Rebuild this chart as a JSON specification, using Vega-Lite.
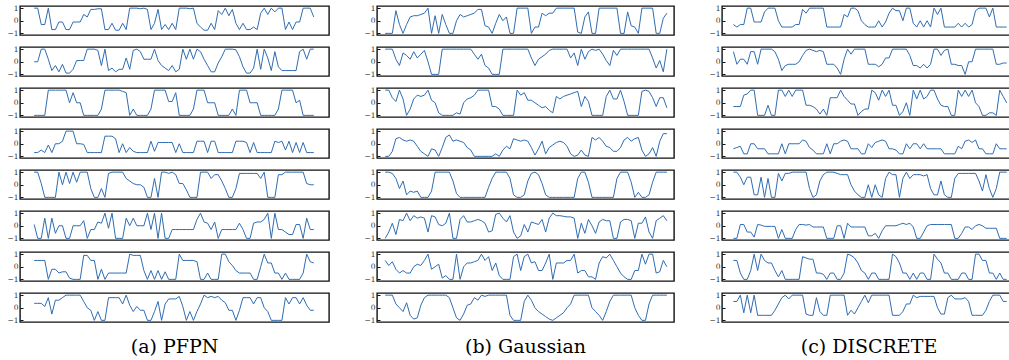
{
"$schema": "https://vega.github.io/schema/vega-lite/v6.json",
"padding": {"left": 6, "top": 3, "right": 0, "bottom": 0},
"background": "white",
"spacing": 33,
"config": {"view": {"stroke": "#111", "strokeWidth": 1.4}, "font": "DejaVu Serif"},
"datasets": {
"A": [
{"t":0,"a":1,"b":0,"c":-1,"d":-0.7,"e":1,"f":0.1,"g":0.5,"h":0.35},
{"t":1,"a":1,"b":0,"c":-1,"d":-0.7,"e":1,"f":-1,"g":0.5,"h":0.35},
{"t":2,"a":-0.3,"b":1,"c":-1,"d":-0.5,"e":0.1,"f":-1,"g":0.5,"h":0.35},
{"t":3,"a":-0.3,"b":1,"c":-1,"d":-0.7,"e":-1,"f":0.6,"g":0.5,"h":0.1},
{"t":4,"a":1,"b":0.2,"c":1,"d":-0.1,"e":-1,"f":-1,"g":-1,"h":0.8},
{"t":5,"a":-0.7,"b":-0.7,"c":1,"d":-0.7,"e":-1,"f":0.6,"g":-0.2,"h":-0.5},
{"t":6,"a":-0.7,"b":-0.3,"c":1,"d":0,"e":-1,"f":-0.6,"g":-0.2,"h":0.6},
{"t":7,"a":-0.1,"b":-0.8,"c":1,"d":0,"e":1,"f":0,"g":-0.5,"h":0.6},
{"t":8,"a":-0.1,"b":-0.2,"c":1,"d":0.2,"e":0,"f":0,"g":-0.4,"h":0.8},
{"t":9,"a":-0.7,"b":-0.9,"c":1,"d":1,"e":1,"f":-1,"g":-0.4,"h":1},
{"t":10,"a":-0.7,"b":-0.9,"c":0,"d":1,"e":0.1,"f":-1,"g":-0.9,"h":1},
{"t":11,"a":-0.1,"b":-0.6,"c":0.8,"d":1,"e":1,"f":0,"g":-1,"h":1},
{"t":12,"a":-0.1,"b":0.1,"c":0,"d":0,"e":0.2,"f":0,"g":-1,"h":1},
{"t":13,"a":-0.1,"b":0.1,"c":0,"d":0,"e":1,"f":0,"g":-1,"h":1},
{"t":14,"a":0.5,"b":0.1,"c":-1,"d":-0.05,"e":1,"f":0.4,"g":0.9,"h":0.5},
{"t":15,"a":0.3,"b":1,"c":-1,"d":-0.7,"e":1,"f":-1,"g":0.9,"h":0},
{"t":16,"a":0.9,"b":1,"c":-1,"d":-0.7,"e":-0.3,"f":-0.3,"g":0.5,"h":-0.2},
{"t":17,"a":0.9,"b":1,"c":-1,"d":-0.7,"e":-1,"f":-0.3,"g":0.5,"h":-1},
{"t":18,"a":0.95,"b":0.9,"c":-1,"d":-0.7,"e":-1,"f":0.3,"g":-1,"h":-0.3},
{"t":19,"a":0.95,"b":-0.3,"c":-0.5,"d":-0.7,"e":-0.3,"f":0.2,"g":-0.2,"h":-1},
{"t":20,"a":-0.7,"b":1,"c":1,"d":0.6,"e":-1,"f":1,"g":-1,"h":-1},
{"t":21,"a":-0.7,"b":-0.7,"c":1,"d":0.6,"e":0.9,"f":-0.2,"g":-0.5,"h":0.8},
{"t":22,"a":-0.2,"b":-0.5,"c":1,"d":0.6,"e":1,"f":1,"g":-0.5,"h":0.8},
{"t":23,"a":-0.75,"b":-0.8,"c":1,"d":0.4,"e":1,"f":-1,"g":-0.5,"h":0.8},
{"t":24,"a":-0.75,"b":-0.6,"c":1,"d":-0.7,"e":1,"f":-1,"g":-0.5,"h":0.8},
{"t":25,"a":-0.2,"b":-0.6,"c":0.9,"d":0,"e":1,"f":-1,"g":-0.5,"h":0.3},
{"t":26,"a":-0.7,"b":0.3,"c":0.8,"d":-0.7,"e":0.5,"f":0.6,"g":-0.5,"h":1},
{"t":27,"a":1,"b":-0.6,"c":-1,"d":-0.3,"e":0.3,"f":0,"g":1,"h":0.2},
{"t":28,"a":1,"b":0.9,"c":-0.5,"d":-0.6,"e":0.1,"f":0.6,"g":0.9,"h":-0.3},
{"t":29,"a":1,"b":1,"c":-1,"d":-0.7,"e":0,"f":0,"g":0.9,"h":0.1},
{"t":30,"a":0.95,"b":0.8,"c":-1,"d":-0.7,"e":0,"f":0,"g":0.9,"h":-0.2},
{"t":31,"a":1,"b":0.2,"c":-1,"d":-0.7,"e":-0.2,"f":0,"g":-0.3,"h":-0.2},
{"t":32,"a":0.9,"b":0.2,"c":-1,"d":-0.7,"e":-1,"f":1,"g":-1,"h":-1},
{"t":33,"a":-0.7,"b":0.2,"c":-0.5,"d":0.2,"e":-1,"f":-0.3,"g":-0.3,"h":-1},
{"t":34,"a":-0.2,"b":1,"c":1,"d":-0.6,"e":0.5,"f":1,"g":-1,"h":-0.3},
{"t":35,"a":0.9,"b":0.1,"c":1,"d":0.1,"e":-1,"f":-1,"g":-0.3,"h":0.5},
{"t":36,"a":-0.7,"b":-0.3,"c":1,"d":0.1,"e":1,"f":1,"g":-1,"h":-1},
{"t":37,"a":-0.3,"b":-0.5,"c":1,"d":0.1,"e":1,"f":-1,"g":-0.4,"h":0.3},
{"t":38,"a":-0.7,"b":-0.7,"c":0.1,"d":0.1,"e":0.9,"f":-1,"g":-1,"h":0.7},
{"t":39,"a":-0.2,"b":-0.3,"c":0.1,"d":0.1,"e":1,"f":-0.3,"g":-1,"h":0.7},
{"t":40,"a":-0.7,"b":-0.8,"c":0.8,"d":-0.7,"e":0.8,"f":-0.3,"g":-1,"h":0.7},
{"t":41,"a":1,"b":-0.6,"c":-1,"d":0,"e":0.1,"f":-0.3,"g":1,"h":0.9},
{"t":42,"a":1,"b":1,"c":-1,"d":-0.7,"e":0.1,"f":-0.3,"g":0.5,"h":0.1},
{"t":43,"a":1,"b":0.2,"c":-1,"d":-0.7,"e":-0.4,"f":-0.3,"g":0.5,"h":-1},
{"t":44,"a":0.95,"b":1,"c":-1,"d":-0.7,"e":-1,"f":-0.3,"g":0.5,"h":-0.3},
{"t":45,"a":1,"b":0.2,"c":-0.5,"d":-0.7,"e":-1,"f":-0.3,"g":0.5,"h":-1},
{"t":46,"a":-0.2,"b":1,"c":1,"d":0.2,"e":-1,"f":0.5,"g":0.4,"h":-0.3},
{"t":47,"a":-0.5,"b":0.8,"c":1,"d":0.2,"e":1,"f":1,"g":-1,"h":0.3},
{"t":48,"a":-0.75,"b":0.2,"c":1,"d":0.2,"e":1,"f":0.3,"g":-1,"h":1},
{"t":49,"a":-0.75,"b":-0.3,"c":0,"d":-0.7,"e":1,"f":0.2,"g":-0.5,"h":0.8},
{"t":50,"a":-0.2,"b":-0.8,"c":0,"d":0.2,"e":0.5,"f":-0.3,"g":-1,"h":0.9},
{"t":51,"a":-0.7,"b":-0.8,"c":0,"d":0.2,"e":0.8,"f":0.3,"g":-1,"h":0.8},
{"t":52,"a":0.8,"b":-0.1,"c":-1,"d":-0.7,"e":0.8,"f":-1,"g":-1,"h":0.9},
{"t":53,"a":0.5,"b":0.4,"c":-1,"d":-0.7,"e":0.3,"f":-0.3,"g":1,"h":0.6},
{"t":54,"a":1,"b":1,"c":-1,"d":-0.7,"e":-0.3,"f":-0.3,"g":1,"h":0.4},
{"t":55,"a":0.4,"b":1,"c":-1,"d":-0.7,"e":-1,"f":-0.3,"g":0.4,"h":-0.2},
{"t":56,"a":0.9,"b":1,"c":-0.5,"d":-0.7,"e":-1,"f":-0.3,"g":0.1,"h":-0.2},
{"t":57,"a":-0.2,"b":0.95,"c":-1,"d":0.2,"e":-0.3,"f":-0.3,"g":-0.3,"h":-1},
{"t":58,"a":-0.7,"b":0.4,"c":1,"d":0.2,"e":0.9,"f":0.2,"g":-0.5,"h":-0.2},
{"t":59,"a":-0.2,"b":-0.4,"c":1,"d":0.2,"e":0.9,"f":-0.3,"g":-0.5,"h":0.8},
{"t":60,"a":-0.7,"b":-0.9,"c":1,"d":0.1,"e":0.9,"f":-1,"g":-0.5,"h":0.8},
{"t":61,"a":-0.7,"b":-0.9,"c":0,"d":-0.7,"e":0.9,"f":-1,"g":-0.5,"h":0.8},
{"t":62,"a":-0.5,"b":-0.5,"c":0,"d":0.1,"e":0.9,"f":0.2,"g":-1,"h":0.3},
{"t":63,"a":-0.7,"b":1,"c":0,"d":-0.7,"e":0.9,"f":0.3,"g":-1,"h":0.8},
{"t":64,"a":0.6,"b":-0.6,"c":-1,"d":-0.7,"e":0.5,"f":0.3,"g":0,"h":0.8},
{"t":65,"a":1,"b":1,"c":-1,"d":-0.7,"e":1,"f":0.5,"g":1,"h":0},
{"t":66,"a":0.5,"b":0.3,"c":-1,"d":-0.7,"e":-1,"f":1,"g":0.3,"h":-0.3},
{"t":67,"a":1,"b":-0.7,"c":-1,"d":-0.7,"e":-1,"f":-1,"g":0.3,"h":-1},
{"t":68,"a":0.7,"b":0.8,"c":-1,"d":0.2,"e":-1,"f":1,"g":-0.5,"h":-1},
{"t":69,"a":1,"b":-0.4,"c":-0.5,"d":0.1,"e":0.8,"f":-0.3,"g":-0.5,"h":-1},
{"t":70,"a":1,"b":-0.7,"c":1,"d":0.2,"e":0.8,"f":-0.3,"g":-1,"h":-1},
{"t":71,"a":-0.7,"b":-0.7,"c":1,"d":-0.5,"e":1,"f":-0.5,"g":-0.5,"h":0.8},
{"t":72,"a":-0.1,"b":-0.7,"c":1,"d":0.2,"e":1,"f":-0.7,"g":-1,"h":0.3},
{"t":73,"a":-0.7,"b":-0.7,"c":1,"d":-0.7,"e":1,"f":-0.7,"g":-1,"h":0.8},
{"t":74,"a":-0.1,"b":-0.7,"c":0,"d":0.1,"e":1,"f":0.1,"g":-1,"h":0.8},
{"t":75,"a":-0.1,"b":0.8,"c":0.2,"d":-0.7,"e":1,"f":0.1,"g":-1,"h":0.3},
{"t":76,"a":1,"b":1,"c":-1,"d":0.1,"e":1,"f":-1,"g":-0.5,"h":0.8},
{"t":77,"a":1,"b":0.2,"c":-1,"d":-0.7,"e":0.1,"f":0.6,"g":1,"h":0.2},
{"t":78,"a":1,"b":1,"c":-1,"d":-0.7,"e":0,"f":-0.3,"g":0.4,"h":-0.2},
{"t":79,"a":0.3,"b":1,"c":-1,"d":-0.7,"e":0,"f":-0.3,"g":0.3,"h":-0.2}
],
"B": [
{"t":0,"a":-1,"b":1,"c":1,"d":-1,"e":1,"f":-1,"g":0.5,"h":1},
{"t":1,"a":-1,"b":1,"c":1,"d":-1,"e":1,"f":-0.5,"g":0.1,"h":1},
{"t":2,"a":-1,"b":1,"c":0.4,"d":-0.6,"e":0.9,"f":0.2,"g":0.4,"h":1},
{"t":3,"a":0.8,"b":0.2,"c":0.1,"d":0.4,"e":0.5,"f":-0.7,"g":-0.2,"h":0.3},
{"t":4,"a":-0.3,"b":-0.3,"c":1,"d":0.5,"e":-0.3,"f":0.5,"g":-0.5,"h":0},
{"t":5,"a":-1,"b":0.7,"c":0.3,"d":0.3,"e":0.3,"f":0.4,"g":-0.3,"h":-0.3},
{"t":6,"a":-0.3,"b":0.5,"c":-1,"d":0.2,"e":-0.8,"f":1,"g":-0.5,"h":0.4},
{"t":7,"a":0.3,"b":0.2,"c":-0.5,"d":0.3,"e":-0.5,"f":0.4,"g":-0.5,"h":-0.6},
{"t":8,"a":0.4,"b":0.8,"c":0.3,"d":0.2,"e":-0.6,"f":0.8,"g":0,"h":-0.9},
{"t":9,"a":0.4,"b":0.3,"c":0.6,"d":-0.2,"e":-0.5,"f":0.6,"g":0.2,"h":-0.8},
{"t":10,"a":0.5,"b":0.6,"c":0.5,"d":-0.6,"e":-1,"f":0.7,"g":0.1,"h":0.2},
{"t":11,"a":0.6,"b":0.9,"c":0.6,"d":-0.8,"e":-1,"f":0.6,"g":0.5,"h":0.8},
{"t":12,"a":1,"b":0,"c":1,"d":-1,"e":-1,"f":-0.5,"g":1,"h":1},
{"t":13,"a":-1,"b":-1,"c":0.2,"d":-0.4,"e":-0.5,"f":0.8,"g":-0.2,"h":1},
{"t":14,"a":0.4,"b":-1,"c":0,"d":-0.5,"e":1,"f":0.7,"g":0,"h":1},
{"t":15,"a":-1,"b":-1,"c":-0.8,"d":-1,"e":1,"f":0.1,"g":0.2,"h":1},
{"t":16,"a":0.5,"b":1,"c":-1,"d":-0.3,"e":1,"f":0,"g":-0.9,"h":1},
{"t":17,"a":-0.3,"b":1,"c":-1,"d":0.5,"e":1,"f":0.2,"g":-0.7,"h":1},
{"t":18,"a":-1,"b":1,"c":-1,"d":0.7,"e":1,"f":1,"g":-1,"h":0.8},
{"t":19,"a":-1,"b":1,"c":-1,"d":0.2,"e":0.3,"f":-1,"g":-1,"h":0},
{"t":20,"a":0,"b":1,"c":-0.8,"d":0.3,"e":-0.7,"f":-1,"g":1,"h":-0.8},
{"t":21,"a":0.5,"b":1,"c":-0.9,"d":0.2,"e":-1,"f":0.5,"g":-1,"h":-1},
{"t":22,"a":0.3,"b":1,"c":0,"d":0.1,"e":-1,"f":0.8,"g":0,"h":-0.5},
{"t":23,"a":0.4,"b":1,"c":0.3,"d":-0.3,"e":-1,"f":0.3,"g":0.3,"h":0.2},
{"t":24,"a":0.5,"b":1,"c":0.4,"d":-0.5,"e":-1,"f":0.3,"g":0.3,"h":0.3},
{"t":25,"a":0.6,"b":0.6,"c":0.6,"d":-1,"e":-1,"f":0.4,"g":0.4,"h":0.8},
{"t":26,"a":0.9,"b":0.2,"c":1,"d":-1,"e":-1,"f":0.5,"g":0.5,"h":0.6},
{"t":27,"a":0.9,"b":0.6,"c":1,"d":-1,"e":-1,"f":0.4,"g":1,"h":1},
{"t":28,"a":-0.4,"b":-0.3,"c":1,"d":-1,"e":-1,"f":0.2,"g":0.5,"h":0.9},
{"t":29,"a":-0.5,"b":-0.5,"c":1,"d":-1,"e":-0.2,"f":-0.5,"g":0.8,"h":1},
{"t":30,"a":-1,"b":-1,"c":-0.3,"d":-1,"e":0.5,"f":-0.4,"g":-0.3,"h":1},
{"t":31,"a":-0.2,"b":-1,"c":-0.3,"d":-0.8,"e":1,"f":0.9,"g":0.3,"h":1},
{"t":32,"a":0.5,"b":-1,"c":-0.5,"d":-1,"e":1,"f":1,"g":-0.7,"h":1},
{"t":33,"a":0,"b":1,"c":-1,"d":-0.5,"e":1,"f":0.6,"g":-1,"h":1},
{"t":34,"a":0.3,"b":1,"c":-1,"d":-0.2,"e":1,"f":0.3,"g":-1,"h":1},
{"t":35,"a":-1,"b":1,"c":-1,"d":-0.4,"e":0.5,"f":0.8,"g":-1,"h":-0.6},
{"t":36,"a":-1,"b":1,"c":-1,"d":0.4,"e":-0.8,"f":-0.5,"g":0.8,"h":-1},
{"t":37,"a":1,"b":1,"c":1,"d":0.3,"e":-1,"f":-1,"g":1,"h":-1},
{"t":38,"a":1,"b":1,"c":0.6,"d":0.2,"e":-1,"f":-0.8,"g":-0.3,"h":-1},
{"t":39,"a":1,"b":1,"c":0.8,"d":0.3,"e":-0.8,"f":0.1,"g":0.8,"h":0.5},
{"t":40,"a":1,"b":1,"c":0.2,"d":0.2,"e":0.3,"f":-0.5,"g":1,"h":1},
{"t":41,"a":-1,"b":0.3,"c":0.2,"d":-0.3,"e":0.9,"f":0.3,"g":0.3,"h":0.6},
{"t":42,"a":-0.5,"b":-0.3,"c":0,"d":-0.9,"e":1,"f":0.2,"g":0.4,"h":0},
{"t":43,"a":-0.5,"b":0.2,"c":-0.2,"d":-0.4,"e":0.8,"f":0.1,"g":-0.3,"h":-0.3},
{"t":44,"a":0.6,"b":0.4,"c":-0.4,"d":0.2,"e":0.1,"f":0.5,"g":-0.3,"h":-0.5},
{"t":45,"a":0.4,"b":0.6,"c":-0.3,"d":-0.8,"e":-0.8,"f":-0.5,"g":0.3,"h":-0.7},
{"t":46,"a":0.6,"b":0.9,"c":-0.6,"d":-0.3,"e":-1,"f":0.6,"g":1,"h":-0.9},
{"t":47,"a":0.6,"b":1,"c":-0.8,"d":-0.1,"e":-1,"f":1,"g":-1,"h":-1},
{"t":48,"a":1,"b":1,"c":0.5,"d":0.1,"e":-1,"f":0.8,"g":0.3,"h":-0.8},
{"t":49,"a":1,"b":1,"c":0.3,"d":0.2,"e":-1,"f":0.8,"g":0.3,"h":-0.6},
{"t":50,"a":1,"b":1,"c":0.5,"d":0.1,"e":-1,"f":0.75,"g":0.3,"h":-0.4},
{"t":51,"a":1,"b":1,"c":0.6,"d":-0.2,"e":-1,"f":0.7,"g":0.5,"h":0},
{"t":52,"a":1,"b":0.3,"c":0.7,"d":-0.8,"e":-1,"f":0.7,"g":0.5,"h":0.3},
{"t":53,"a":1,"b":0.7,"c":0.8,"d":-1,"e":-1,"f":0.6,"g":1,"h":1},
{"t":54,"a":-0.9,"b":-0.3,"c":0.9,"d":-0.9,"e":0.5,"f":-1,"g":-0.5,"h":1},
{"t":55,"a":-1,"b":1,"c":-0.3,"d":-0.5,"e":1,"f":0.2,"g":-0.3,"h":1},
{"t":56,"a":0.3,"b":0.2,"c":0.5,"d":-0.9,"e":1,"f":-0.6,"g":-0.3,"h":1},
{"t":57,"a":0.7,"b":0.8,"c":0.1,"d":-1,"e":0.2,"f":0.5,"g":-0.8,"h":1},
{"t":58,"a":-1,"b":1,"c":-1,"d":0.5,"e":-1,"f":0,"g":-0.8,"h":0},
{"t":59,"a":-1,"b":0.9,"c":-1,"d":0.3,"e":-1,"f":-0.6,"g":-1,"h":-0.3},
{"t":60,"a":1,"b":1,"c":-1,"d":0.5,"e":-1,"f":0.3,"g":0.3,"h":-0.6},
{"t":61,"a":1,"b":0.6,"c":-1,"d":0.2,"e":-1,"f":0.5,"g":0.8,"h":-1},
{"t":62,"a":1,"b":0.1,"c":0.5,"d":-0.2,"e":-1,"f":0.4,"g":0.7,"h":-0.3},
{"t":63,"a":1,"b":-0.3,"c":1,"d":-0.3,"e":-1,"f":0.4,"g":1,"h":0.5},
{"t":64,"a":1,"b":0.9,"c":0.3,"d":-0.6,"e":-1,"f":-1,"g":0.5,"h":1},
{"t":65,"a":1,"b":0.5,"c":0.3,"d":-0.6,"e":0.5,"f":-1,"g":0,"h":1},
{"t":66,"a":-1,"b":1,"c":1,"d":-0.3,"e":1,"f":0.3,"g":-0.5,"h":1},
{"t":67,"a":-1,"b":1,"c":0.1,"d":0.3,"e":1,"f":0.5,"g":-0.8,"h":1},
{"t":68,"a":0.7,"b":1,"c":-1,"d":0.5,"e":1,"f":0.5,"g":-1,"h":1},
{"t":69,"a":-0.4,"b":1,"c":-1,"d":0.2,"e":0.2,"f":0.4,"g":-1,"h":1},
{"t":70,"a":-0.5,"b":1,"c":-1,"d":0.4,"e":-1,"f":-1,"g":-0.3,"h":0},
{"t":71,"a":-1,"b":1,"c":-1,"d":0.5,"e":-0.6,"f":0.2,"g":-0.3,"h":-0.6},
{"t":72,"a":1,"b":1,"c":0.9,"d":-0.5,"e":-1,"f":0.2,"g":1,"h":-1},
{"t":73,"a":1,"b":1,"c":1,"d":-1,"e":-1,"f":0.7,"g":0.2,"h":-1},
{"t":74,"a":1,"b":1,"c":0.9,"d":-0.8,"e":-0.8,"f":-0.5,"g":1,"h":0.3},
{"t":75,"a":1,"b":0.3,"c":0.4,"d":-0.3,"e":0.2,"f":-1,"g":1,"h":1},
{"t":76,"a":-1,"b":-0.5,"c":-0.3,"d":-1,"e":1,"f":0.4,"g":-0.5,"h":1},
{"t":77,"a":-1,"b":0.1,"c":0.4,"d":0.2,"e":1,"f":0.6,"g":-0.4,"h":1},
{"t":78,"a":0.2,"b":-0.8,"c":0.4,"d":0.8,"e":1,"f":0.8,"g":0.5,"h":1},
{"t":79,"a":0.6,"b":1,"c":-0.4,"d":0.8,"e":1,"f":0.4,"g":0,"h":1}
],
"C": [
{"t":0,"a":-0.3,"b":0.8,"c":-0.3,"d":-0.4,"e":1,"f":-1,"g":0.5,"h":0.5},
{"t":1,"a":-0.5,"b":-0.2,"c":-0.3,"d":-0.3,"e":1,"f":-1,"g":0.5,"h":0.5},
{"t":2,"a":-0.3,"b":0.2,"c":-0.3,"d":-0.2,"e":0.6,"f":0.1,"g":-0.5,"h":1},
{"t":3,"a":-0.3,"b":0.2,"c":0.6,"d":-0.8,"e":0,"f":0.1,"g":-1,"h":-0.4},
{"t":4,"a":1,"b":-0.2,"c":0.7,"d":-0.8,"e":0.6,"f":-0.5,"g":-1,"h":1},
{"t":5,"a":1,"b":0.8,"c":1,"d":0,"e":0.6,"f":-0.5,"g":-0.3,"h":-0.4},
{"t":6,"a":-0.1,"b":0.8,"c":1,"d":0,"e":-0.8,"f":-0.9,"g":1,"h":1},
{"t":7,"a":-0.1,"b":-0.2,"c":-1,"d":-0.4,"e":-0.8,"f":0.1,"g":-0.3,"h":-0.6},
{"t":8,"a":-0.1,"b":1,"c":-1,"d":-0.4,"e":0.6,"f":0.05,"g":1,"h":-0.6},
{"t":9,"a":0.7,"b":1,"c":-1,"d":-0.4,"e":-1,"f":-0.05,"g":0.5,"h":-0.6},
{"t":10,"a":1,"b":1,"c":-0.2,"d":-0.8,"e":0.5,"f":-0.05,"g":0.3,"h":-0.6},
{"t":11,"a":1,"b":1,"c":-1,"d":-0.8,"e":-1,"f":-0.05,"g":0.3,"h":-0.6},
{"t":12,"a":1,"b":0.8,"c":-1,"d":-0.8,"e":-1,"f":-0.05,"g":-0.3,"h":-0.2},
{"t":13,"a":0,"b":0.2,"c":1,"d":-0.8,"e":0.9,"f":-1,"g":-0.8,"h":0.3},
{"t":14,"a":-0.5,"b":-0.7,"c":1,"d":0,"e":0.3,"f":-0.3,"g":-0.3,"h":0.8},
{"t":15,"a":-0.5,"b":-0.3,"c":0.5,"d":-0.8,"e":0.9,"f":-1,"g":-1,"h":1},
{"t":16,"a":-0.5,"b":-0.2,"c":1,"d":0,"e":0.9,"f":-1,"g":-1,"h":0.7},
{"t":17,"a":-0.5,"b":-0.2,"c":0.5,"d":0,"e":1,"f":-1,"g":-1,"h":1},
{"t":18,"a":-0.3,"b":-0.2,"c":1,"d":0,"e":1,"f":-0.3,"g":-1,"h":1},
{"t":19,"a":-0.3,"b":0,"c":1,"d":0,"e":1,"f":0.1,"g":-1,"h":1},
{"t":20,"a":0.9,"b":0.5,"c":1,"d":0.3,"e":1,"f":0.1,"g":0.8,"h":1},
{"t":21,"a":0.6,"b":0.9,"c":-0.2,"d":0.2,"e":1,"f":0.05,"g":0.7,"h":-0.5},
{"t":22,"a":1,"b":1,"c":-0.2,"d":-0.3,"e":-0.3,"f":0.1,"g":0.6,"h":-0.6},
{"t":23,"a":1,"b":0.9,"c":-0.3,"d":-0.5,"e":-1,"f":-0.1,"g":0.6,"h":-0.6},
{"t":24,"a":1,"b":0.8,"c":-0.5,"d":-0.8,"e":-0.8,"f":-0.1,"g":-0.5,"h":0.8},
{"t":25,"a":1,"b":0.9,"c":-0.9,"d":-0.8,"e":0.3,"f":-0.1,"g":-0.5,"h":-0.3},
{"t":26,"a":1,"b":0.8,"c":-0.5,"d":-0.8,"e":0.8,"f":-0.1,"g":-0.6,"h":-0.6},
{"t":27,"a":-0.5,"b":-0.2,"c":-1,"d":0,"e":1,"f":-1,"g":-1,"h":-0.6},
{"t":28,"a":-0.5,"b":-0.2,"c":0.4,"d":-0.8,"e":1,"f":-1,"g":-0.5,"h":1},
{"t":29,"a":-0.5,"b":-0.2,"c":0.4,"d":0,"e":1,"f":-1,"g":-0.5,"h":1},
{"t":30,"a":-0.5,"b":-0.5,"c":0.4,"d":0,"e":0.9,"f":0,"g":-1,"h":1},
{"t":31,"a":-0.5,"b":-1,"c":1,"d":0.2,"e":0.8,"f":0,"g":-1,"h":1},
{"t":32,"a":0.5,"b":0.2,"c":0.5,"d":0.3,"e":0.8,"f":-1,"g":-0.5,"h":1},
{"t":33,"a":0.3,"b":1,"c":0.2,"d":0.2,"e":0.8,"f":0.2,"g":1,"h":-0.6},
{"t":34,"a":1,"b":0.6,"c":-0.1,"d":-0.4,"e":0,"f":-0.1,"g":0.9,"h":-0.2},
{"t":35,"a":1,"b":1,"c":-0.1,"d":-0.4,"e":-0.5,"f":-0.1,"g":0.7,"h":-0.5},
{"t":36,"a":0.8,"b":1,"c":-1,"d":-0.4,"e":-0.8,"f":-0.1,"g":0.3,"h":0},
{"t":37,"a":0,"b":1,"c":-0.7,"d":-0.8,"e":-1,"f":-0.1,"g":-0.3,"h":0.5},
{"t":38,"a":-0.3,"b":1,"c":-0.5,"d":-0.8,"e":-1,"f":-0.1,"g":-0.5,"h":1},
{"t":39,"a":-0.5,"b":-0.2,"c":-0.5,"d":0,"e":0,"f":-0.8,"g":-1,"h":0.4},
{"t":40,"a":-0.5,"b":-0.2,"c":1,"d":-0.3,"e":-1,"f":-0.8,"g":-0.5,"h":1},
{"t":41,"a":-0.5,"b":-0.2,"c":0.8,"d":0.1,"e":0,"f":-0.6,"g":-0.5,"h":1},
{"t":42,"a":0,"b":-0.4,"c":0.2,"d":0.2,"e":-0.8,"f":-1,"g":-1,"h":1},
{"t":43,"a":-0.5,"b":-0.2,"c":1,"d":0.3,"e":-1,"f":-0.4,"g":-1,"h":1},
{"t":44,"a":-0.1,"b":0.3,"c":0.5,"d":0.2,"e":0.5,"f":0,"g":-1,"h":1},
{"t":45,"a":0.6,"b":0.3,"c":1,"d":-0.4,"e":1,"f":0,"g":-1,"h":1},
{"t":46,"a":1,"b":1,"c":-0.2,"d":-0.4,"e":0.8,"f":0,"g":1,"h":-0.6},
{"t":47,"a":0.8,"b":1,"c":-0.2,"d":-0.5,"e":0.8,"f":0,"g":0.8,"h":-0.6},
{"t":48,"a":0.8,"b":1,"c":-1,"d":-0.8,"e":-1,"f":0.1,"g":0.3,"h":-0.6},
{"t":49,"a":0,"b":1,"c":-0.7,"d":-0.8,"e":0.5,"f":0.2,"g":-0.5,"h":-0.3},
{"t":50,"a":1,"b":1,"c":0,"d":0,"e":1,"f":0.1,"g":-0.5,"h":0.3},
{"t":51,"a":1,"b":0.5,"c":-1,"d":-0.4,"e":0.5,"f":0.2,"g":-1,"h":0.3},
{"t":52,"a":-0.2,"b":-0.3,"c":1,"d":0,"e":0.8,"f":-0.1,"g":-0.5,"h":1},
{"t":53,"a":-0.5,"b":-0.3,"c":0.3,"d":0,"e":0.8,"f":-1,"g":-1,"h":0.8},
{"t":54,"a":0,"b":-0.5,"c":1,"d":-0.4,"e":0.8,"f":-1,"g":-0.5,"h":0.9},
{"t":55,"a":-0.5,"b":-0.2,"c":0.3,"d":0,"e":0.7,"f":-0.5,"g":-0.5,"h":0.9},
{"t":56,"a":0,"b":-0.5,"c":0.5,"d":-0.4,"e":0.8,"f":0,"g":-1,"h":0.9},
{"t":57,"a":-0.5,"b":-0.2,"c":1,"d":-0.4,"e":-0.3,"f":0.1,"g":-1,"h":0.9},
{"t":58,"a":1,"b":1,"c":1,"d":-0.4,"e":-0.8,"f":0.1,"g":1,"h":0.9},
{"t":59,"a":0.5,"b":1,"c":0.3,"d":-0.4,"e":-0.8,"f":0.1,"g":0.6,"h":0},
{"t":60,"a":1,"b":0.5,"c":-0.2,"d":-0.4,"e":0.3,"f":0.1,"g":0.3,"h":-0.5},
{"t":61,"a":-0.5,"b":0.9,"c":-0.3,"d":-0.8,"e":-0.8,"f":0.1,"g":-0.5,"h":-0.5},
{"t":62,"a":-0.5,"b":1,"c":-0.3,"d":-0.8,"e":-1,"f":0.1,"g":-0.5,"h":0.8},
{"t":63,"a":-0.5,"b":-0.2,"c":-1,"d":-0.8,"e":-1,"f":0.1,"g":-1,"h":1},
{"t":64,"a":-0.5,"b":-0.2,"c":-1,"d":-0.8,"e":0.5,"f":-1,"g":-1,"h":0.7},
{"t":65,"a":-0.2,"b":-0.3,"c":1,"d":-0.2,"e":0.9,"f":-1,"g":-1,"h":0.7},
{"t":66,"a":-0.5,"b":-0.3,"c":0.5,"d":-0.4,"e":0.9,"f":-0.6,"g":-0.5,"h":0.7},
{"t":67,"a":-0.2,"b":-1,"c":1,"d":0.2,"e":0.9,"f":-0.1,"g":-0.5,"h":0.8},
{"t":68,"a":-0.5,"b":0,"c":0.5,"d":0.3,"e":0.9,"f":-0.1,"g":-1,"h":0.5},
{"t":69,"a":-0.3,"b":0,"c":1,"d":0.1,"e":0.9,"f":-0.3,"g":-1,"h":-0.6},
{"t":70,"a":0.8,"b":1,"c":0,"d":0.3,"e":0.9,"f":0,"g":1,"h":-0.6},
{"t":71,"a":1,"b":1,"c":-0.3,"d":-0.4,"e":0.3,"f":0.1,"g":1,"h":-0.6},
{"t":72,"a":1,"b":1,"c":-1,"d":-0.4,"e":-0.5,"f":0,"g":0.5,"h":-0.6},
{"t":73,"a":1,"b":1,"c":-1,"d":-0.8,"e":0.8,"f":-0.2,"g":0.5,"h":-0.2},
{"t":74,"a":0.3,"b":1,"c":-0.8,"d":-0.8,"e":-0.3,"f":-0.2,"g":-0.5,"h":0.5},
{"t":75,"a":1,"b":1,"c":-0.8,"d":-0.8,"e":-1,"f":-0.2,"g":-0.5,"h":1},
{"t":76,"a":-0.5,"b":-0.2,"c":-1,"d":0,"e":-0.3,"f":-0.2,"g":-1,"h":1},
{"t":77,"a":-0.5,"b":-0.2,"c":1,"d":-0.4,"e":1,"f":-1,"g":-0.5,"h":1},
{"t":78,"a":-0.5,"b":-0.1,"c":0.5,"d":-0.4,"e":1,"f":-1,"g":-1,"h":0.5},
{"t":79,"a":-0.5,"b":-0.1,"c":0,"d":-0.4,"e":1,"f":-1,"g":-1,"h":0.5}
]
},
"hconcat": [
{
"vconcat": [
{
"name": "colA",
"repeat": {"row": ["a","b","c","d","e","f","g","h"]},
"spacing": 12,
"bounds": "flush",
"spec": {
"name": "pa",
"data": {"name": "A"},
"width": 309, "height": 29,
"mark": {"type": "line", "color": "#2f6db2", "strokeWidth": 1, "clip": true},
"encoding": {
"x": {"field": "t", "type": "quantitative", "scale": {"domain": [-4, 83.3], "nice": false, "zero": false}, "axis": null},
"y": {"field": {"repeat": "row"}, "type": "quantitative", "scale": {"domain": [-1.13, 1.17], "nice": false, "zero": false}, "axis": {"values": [-1, 0, 1], "title": null, "grid": false, "domain": false, "tickSize": -3, "tickColor": "#111", "labelPadding": 5, "labelFontSize": 7.5, "labelColor": "#333", "labelFont": "DejaVu Serif"}}
}
}
},
{
"data": {"values": [{"cap": "(a)  PFPN"}]},
"width": 309, "height": 20,
"view": {"stroke": null},
"mark": {"type": "text", "fontSize": 19, "font": "DejaVu Serif", "color": "#000"},
"encoding": {"text": {"field": "cap", "type": "nominal"}}
}
],
"spacing": 12
},
{
"vconcat": [
{
"name": "colB",
"repeat": {"row": ["a","b","c","d","e","f","g","h"]},
"spacing": 12,
"bounds": "flush",
"spec": {
"name": "pb",
"data": {"name": "B"},
"width": 297, "height": 29,
"mark": {"type": "line", "color": "#2f6db2", "strokeWidth": 1, "clip": true},
"encoding": {
"x": {"field": "t", "type": "quantitative", "scale": {"domain": [-2.3, 81], "nice": false, "zero": false}, "axis": null},
"y": {"field": {"repeat": "row"}, "type": "quantitative", "scale": {"domain": [-1.13, 1.17], "nice": false, "zero": false}, "axis": {"values": [-1, 0, 1], "title": null, "grid": false, "domain": false, "tickSize": -3, "tickColor": "#111", "labelPadding": 5, "labelFontSize": 7.5, "labelColor": "#333", "labelFont": "DejaVu Serif"}}
}
}
},
{
"data": {"values": [{"cap": "(b)  Gaussian"}]},
"width": 297, "height": 20,
"view": {"stroke": null},
"mark": {"type": "text", "fontSize": 19, "font": "DejaVu Serif", "color": "#000"},
"encoding": {"text": {"field": "cap", "type": "nominal"}}
}
],
"spacing": 12
},
{
"vconcat": [
{
"name": "colC",
"repeat": {"row": ["a","b","c","d","e","f","g","h"]},
"spacing": 12,
"bounds": "flush",
"spec": {
"name": "pc",
"data": {"name": "C"},
"width": 294, "height": 29,
"mark": {"type": "line", "color": "#2f6db2", "strokeWidth": 1, "clip": true},
"encoding": {
"x": {"field": "t", "type": "quantitative", "scale": {"domain": [-3.3, 81.7], "nice": false, "zero": false}, "axis": null},
"y": {"field": {"repeat": "row"}, "type": "quantitative", "scale": {"domain": [-1.13, 1.17], "nice": false, "zero": false}, "axis": {"values": [-1, 0, 1], "title": null, "grid": false, "domain": false, "tickSize": -3, "tickColor": "#111", "labelPadding": 5, "labelFontSize": 7.5, "labelColor": "#333", "labelFont": "DejaVu Serif"}}
}
}
},
{
"data": {"values": [{"cap": "(c)  DISCRETE"}]},
"width": 294, "height": 20,
"view": {"stroke": null},
"mark": {"type": "text", "fontSize": 19, "font": "DejaVu Serif", "color": "#000"},
"encoding": {"text": {"field": "cap", "type": "nominal"}}
}
],
"spacing": 12
}
]
}
